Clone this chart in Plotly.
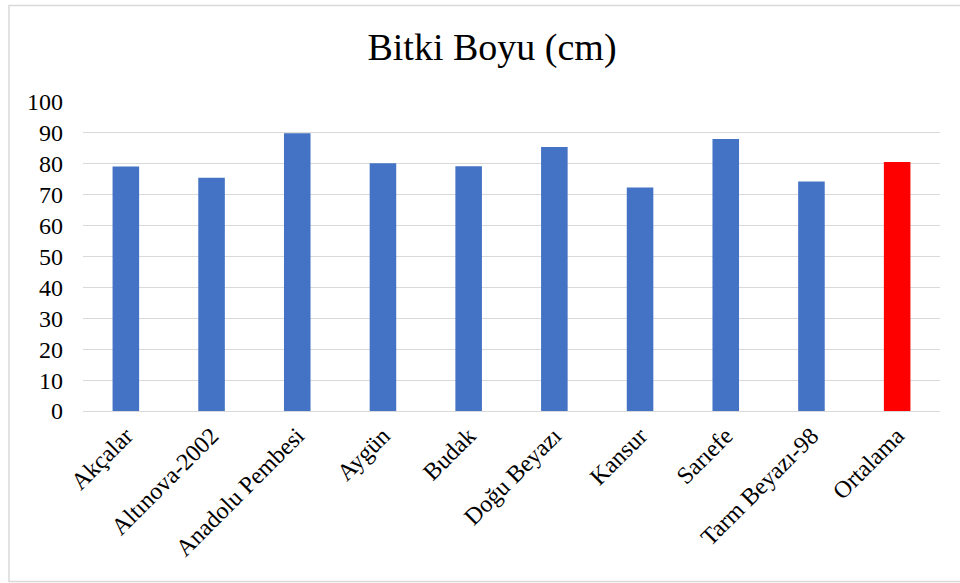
import plotly.graph_objects as go

# Plant height by variety, with the overall mean as the last bar
varieties = ["Akçalar", "Altınova-2002", "Anadolu Pembesi", "Aygün", "Budak",
             "Doğu Beyazı", "Kansur", "Sarıefe", "Tarm Beyazı-98", "Ortalama"]
heights = [79.1, 75.5, 89.9, 80.2, 79.2, 85.4, 72.3, 88.0, 74.3, 80.6]
y_ticks = [0, 10, 20, 30, 40, 50, 60, 70, 80, 90, 100]

BLUE = "#4472C4"
RED = "#FF0000"
bar_colors = [RED if v == "Ortalama" else BLUE for v in varieties]

FONT = "Liberation Serif, Times New Roman, serif"

fig = go.Figure(
    go.Bar(
        x=varieties,
        y=heights,
        marker=dict(color=bar_colors, line=dict(width=0)),
        hoverinfo="x+y",
    )
)

W, H = 960, 583
L, R, T, B = 83, 20, 102, 172
pw, ph = W - L - R, H - T - B

fig.update_layout(
    width=W,
    height=H,
    margin=dict(l=L, r=R, t=T, b=B),
    paper_bgcolor="white",
    plot_bgcolor="white",
    bargap=0.69,
    showlegend=False,
    font=dict(family=FONT, size=24, color="#000000"),
    title=dict(
        text="Bitki Boyu (cm)",
        font=dict(family=FONT, size=38, color="#000000"),
        x=492 / W,
        xanchor="center",
        xref="container",
        y=1 - 47 / H,
        yanchor="middle",
        yref="container",
    ),
    xaxis=dict(
        tickangle=-45,
        showgrid=False,
        showline=False,
        ticks="",
        ticklabelstandoff=5,
        tickfont=dict(family=FONT, size=24, color="#000000"),
    ),
    yaxis=dict(
        range=[0, 100],
        tickvals=y_ticks,
        showgrid=True,
        gridcolor="#d9d9d9",
        gridwidth=1.3,
        zeroline=True,
        zerolinecolor="#d9d9d9",
        zerolinewidth=1.3,
        showline=False,
        ticks="",
        ticklabelstandoff=19,
        tickfont=dict(family=FONT, size=24, color="#000000"),
    ),
    shapes=[
        dict(
            type="rect",
            xref="paper",
            yref="paper",
            x0=(9 - L) / pw,
            x1=(W + 10 - L) / pw,
            y0=-(581.5 - (H - B)) / ph,
            y1=1 + (T - 5.5) / ph,
            line=dict(color="#d9d9d9", width=1.5),
            fillcolor="rgba(0,0,0,0)",
            layer="below",
        )
    ],
)

fig.write_html("out.html")
